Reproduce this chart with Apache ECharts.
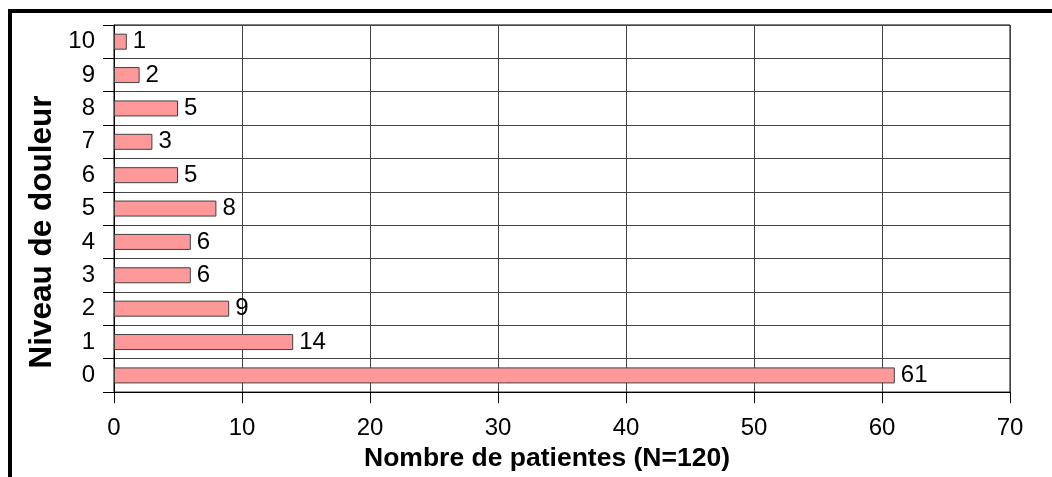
<!DOCTYPE html>
<html>
<head>
<meta charset="utf-8">
<script src="https://cdn.jsdelivr.net/npm/echarts@6/dist/echarts.min.js"></script>
<style>
    html, body { margin: 0; padding: 0; background: #fff; }
    #main { width: 1052px; height: 477px; }
</style>
</head>
<body>
<div id="main"></div>
<script>
    // niveaux de douleur (axe vertical, de bas en haut)
    var niveaux = ['0', '1', '2', '3', '4', '5', '6', '7', '8', '9', '10'];
    // nombre de patientes par niveau
    var patientes = [61, 14, 9, 6, 6, 8, 5, 3, 5, 2, 1];
    var xMin = 0, xMax = 70, xPas = 10;
    var titreX = 'Nombre de patientes (N=120)';
    var titreY = 'Niveau de douleur';

    var police = "'Liberation Sans', Arial, sans-serif";

    var chart = echarts.init(document.getElementById('main'), null, { renderer: 'canvas' });
    var conf = {
        animation: false,
        backgroundColor: '#fff',
        grid: {
            left: 114, right: 42, top: 25, bottom: 83,
            show: true, borderColor: '#000', borderWidth: 1
        },
        xAxis: {
            type: 'value',
            min: xMin, max: xMax, interval: xPas,
            name: titreX,
            nameLocation: 'middle',
            nameGap: 50,
            nameTextStyle: {
                fontFamily: police, fontSize: 26.5, fontWeight: 'bold', color: '#000',
                padding: [0, 30, 0, 0]
            },
            axisLine: { show: true, lineStyle: { color: '#000', width: 1 } },
            axisTick: { show: true, length: 11, lineStyle: { color: '#000' } },
            axisLabel: { fontFamily: police, fontSize: 24, color: '#000', margin: 24 },
            splitLine: { show: true, lineStyle: { color: '#444', width: 1 } }
        },
        yAxis: {
            type: 'category',
            data: niveaux,
            axisLine: { show: true, lineStyle: { color: '#000', width: 1 } },
            axisTick: { show: true, length: 11, lineStyle: { color: '#000' } },
            axisLabel: { fontFamily: police, fontSize: 24, color: '#000', margin: 19 },
            splitLine: { show: true, lineStyle: { color: '#444', width: 1 } }
        },
        series: [{
            type: 'bar',
            data: patientes,
            barWidth: 16,
            itemStyle: { color: '#ff9999', borderColor: '#404040', borderWidth: 1 },
            label: {
                show: true, position: 'right', distance: 6,
                fontFamily: police, fontSize: 24, color: '#000'
            }
        }],
        graphic: [
            // cadre noir (haut et gauche)
            { type: 'rect', shape: { x: 8, y: 9, width: 4, height: 468 }, style: { fill: '#000' } },
            { type: 'rect', shape: { x: 8, y: 9, width: 1044, height: 4 }, style: { fill: '#000' } },
            {
                type: 'text', x: 42, y: 232, rotation: Math.PI / 2,
                style: {
                    text: titreY, fontFamily: police, fontSize: 31.5, fontWeight: 'bold',
                    fill: '#000', align: 'center', verticalAlign: 'middle'
                }
            }
        ]
    };
    chart.setOption(conf);
</script>
</body>
</html>
